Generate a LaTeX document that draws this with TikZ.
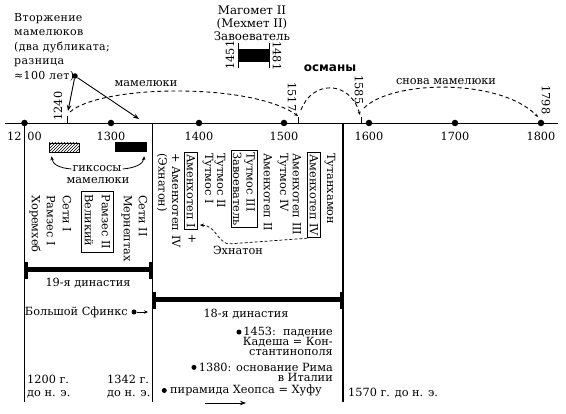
\documentclass[tikz,border=0pt]{standalone}
\usepackage{fontspec}
\setmainfont{DejaVu Serif}
\newfontfamily\sansbold{DejaVu Sans}
\usetikzlibrary{arrows.meta,patterns}
\begin{document}
\begin{tikzpicture}[x=1pt,y=-1pt,
  every node/.style={inner sep=0pt, font=\fontsize{11.3}{13.5}\selectfont},
  cdot/.style={circle, fill=black, minimum size=6.5pt, inner sep=0pt},
  vlab/.style={rotate=-90, anchor=west, align=left},
  vbox/.style={rotate=-90, anchor=west, align=left, draw, line width=0.8pt, inner sep=2pt},
  axisline/.style={line width=0.8pt},
  vline/.style={line width=0.9pt},
  dynbar/.style={line width=5pt},
  dyntick/.style={line width=3pt},
  era/.style={dash pattern=on 4pt off 3pt, line width=0.9pt, -{Stealth[length=3.5pt,width=3pt]}},
  arr/.style={line width=0.9pt, -{Stealth[length=6pt,width=4.5pt]}},
  smallarr/.style={line width=0.8pt, -{Stealth[length=4pt,width=3.5pt]}},
  yr/.style={font=\fontsize{11.3}{13}\selectfont},
  note/.style={anchor=base east},
]
\useasboundingbox (0,0) rectangle (566,414);

% ---------- main axis ----------
\coordinate (axL) at (5,123);
\coordinate (axR) at (558,123);
\draw[axisline] (axL) -- (axR);

\node[cdot] (d1200) at (24.5,123) {};
\node[cdot] (d1300) at (111,123) {};
\node[cdot] (d1400) at (199,123) {};
\node[cdot] (d1500) at (284,123) {};
\node[cdot] (d1600) at (369,123) {};
\node[cdot] (d1700) at (455,123) {};
\node[cdot] (d1800) at (541,123) {};

\node[yr] (l1200) at (24.5,136) {12\hspace{6pt}00};
\node[yr] (l1300) at (111,136) {1300};
\node[yr] (l1400) at (199,136) {1400};
\node[yr] (l1500) at (284,136) {1500};
\node[yr] (l1600) at (369,136) {1600};
\node[yr] (l1700) at (455,136) {1700};
\node[yr] (l1800) at (541,136) {1800};

% small ticks above axis
\draw[axisline] (67,116) -- (67,123);
\draw[axisline] (298,117) -- (298,123);
\draw[axisline] (361,117) -- (361,123);

\node[yr, rotate=90] (t1240) at (58,106) {1240};
\node[yr, rotate=-90] (t1517) at (292,97) {1517};
\node[yr, rotate=-90] (t1585) at (359,90) {1585};
\node[yr, rotate=-90] (t1798) at (546,100) {1798};

% ---------- eras (dashed arcs) ----------
\coordinate (c1240) at (70,112);
\coordinate (c1517) at (298,116);
\coordinate (c1517b) at (301,110);
\coordinate (c1585) at (360,115);
\coordinate (c1585b) at (364,108);
\coordinate (c1798) at (538,117);
\draw[era] (c1240) .. controls (100,85) and (250,82) .. (c1517);
\draw[era] (c1517b) .. controls (312,80) and (350,80) .. (c1585);
\draw[era] (c1585b) .. controls (392,80) and (500,78) .. (c1798);

\node (mam1) at (146,84) {мамелюки};
\node[font=\sansbold\bfseries\fontsize{12}{14}\selectfont] (osm) at (330,68) {османы};
\node (mam2) at (446,82) {снова мамелюки};

% ---------- Mehmet II ----------
\node[align=center, font=\fontsize{11.8}{13}\selectfont] (mehmet) at (252,23) {Магомет II\\(Мехмет II)\\Завоеватель};
\node[fill=black, minimum width=31pt, minimum height=13pt] (mbar) at (254,55.5) {};
\draw[line width=1.2pt] ([yshift=6pt]mbar.north west) -- ([yshift=-6pt]mbar.south west);
\draw[line width=1.2pt] ([yshift=6pt]mbar.north east) -- ([yshift=-6pt]mbar.south east);
\node[yr, rotate=90] (y1451) at (230,55) {1451};
\node[yr, rotate=-90] (y1481) at (277,56) {1481};

% ---------- invasion note ----------
\node[align=left, anchor=north west, font=\fontsize{11}{14.5}\selectfont\addfontfeatures{LetterSpace=3}] (inv) at (14,13)
  {Вторжение\\мамелюков\\(два дубликата;\\разница\\≈100 лет)};
\node[cdot, minimum size=5.5pt] (invdot) at (75,76) {};
\coordinate (inv1240) at (68,111);
\coordinate (inv1340) at (139,119);
\draw[arr] (invdot) -- (inv1240);
\draw[arr] (invdot) -- (inv1340);

% ---------- hyksos / mamelukes ----------
\node[draw, line width=0.8pt, pattern=north east lines, minimum width=30pt, minimum height=9pt] (hyk) at (64,147.5) {};
\node[fill=black, minimum width=32pt, minimum height=10pt] (mamb) at (131,147) {};
\node (gik) at (97,169) {гиксосы};
\node (gik2) at (98,181) {мамелюки};
\draw[smallarr] ([xshift=-1pt]gik.west) .. controls +(-12,-1) and +(1,8) .. ([xshift=3pt,yshift=-4pt]hyk.south west);
\draw[smallarr] ([xshift=1pt]gik.east) .. controls +(12,-1) and +(-1,8) .. ([xshift=-3pt,yshift=-4pt]mamb.south east);

% ---------- vertical lines ----------
\coordinate (v1t) at (24.5,123); \coordinate (v1b) at (24.5,402);
\coordinate (v2t) at (152,123);  \coordinate (v2b) at (152,402);
\coordinate (v3t) at (343,123);  \coordinate (v3b) at (343,402);
\draw[vline] (v1t) -- (v1b);
\draw[vline] (v2t) -- (v2b);
\draw[line width=1.1pt] (v3t) -- (v3b);

% ---------- 19th dynasty names ----------
\node[vlab] (horem) at (35,195) {Хоремхеб};
\node[vlab] (ram1) at (51,195) {Рамзес I};
\node[vlab] (seti1) at (67,195) {Сети I};
\node[vbox, font=\fontsize{11.3}{17}\selectfont, inner sep=3pt] (ram2) at (97.5,191) {Рамзес II\\Великий};
\node[vlab, font=\fontsize{11.3}{15}\selectfont] (seti2) at (134.5,195) {Сети II\\Мернептах};

% ---------- 18th dynasty names ----------
\node[vlab] (amen4a) at (168.5,153) {+ Аменхотеп IV\\(Эхнатон)};
\node[vbox] (amen1) at (191,152) {Аменхотеп I};
\node (plus1) at (192,239) {+};
\node[vlab] (tut1) at (208,153) {Тутмос I};
\node[vlab] (tut2) at (220,153) {Тутмос II};
\node[vbox] (tut3) at (244,150) {Тутмос III\\Завоеватель};
\node[vlab] (amen2) at (268,153) {Аменхотеп II};
\node[vlab] (tut4) at (283,153) {Тутмос IV};
\node[vlab] (amen3) at (297,153) {Аменхотеп III};
\node[vbox] (amen4) at (314,152) {Аменхотеп IV};
\node[vlab] (tutank) at (330,153) {Тутанхамон};

\node (ekh) at (238,250) {Эхнатон};
\coordinate (ekhmid) at (228,244);
\coordinate (ekhtip) at (200,225);
\draw[dash pattern=on 3pt off 2pt, line width=0.7pt, -{Stealth[length=4pt,width=3.5pt]}]
  (amen4.south east) -- (ekhmid) .. controls (216,240) and (216,226) .. (ekhtip);

% ---------- dynasties ----------
\coordinate (b19l) at (25,270); \coordinate (b19r) at (151,270);
\draw[dynbar] (b19l) -- (b19r);
\draw[dyntick] (26,262) -- (26,279);
\draw[dyntick] (150,262) -- (150,279);
\node (d19) at (88,283) {19-я династия};

\coordinate (b18l) at (153,300); \coordinate (b18r) at (342,300);
\draw[dynbar] (b18l) -- (b18r);
\draw[dyntick] (154,292) -- (154,309);
\draw[dyntick] (341,292) -- (341,309);
\node (d18) at (246,314) {18-я династия};

% ---------- sphinx ----------
\node[anchor=east] (sph) at (128,312) {Большой Сфинкс};
\node[cdot, minimum size=5pt] (sphdot) at (134,312) {};
\coordinate (sphend) at (148,312);
\draw[smallarr] (sphdot) -- (sphend);

% ---------- notes ----------
\node[note] (n1a) at (333,335.5) {1453:\ \ падение};
\node[note] (n1b) at (333,345.5) {Кадеша = Кон-};
\node[note] (n1c) at (333,355.5) {стантинополя};
\node[cdot, minimum size=5pt, anchor=east] (n1dot) at ([xshift=-1.5pt]n1a.west) {};

\node[note] (n2a) at (333,371.5) {1380: основание Рима};
\node[note] (n2b) at (333,381.5) {в Италии};
\node[cdot, minimum size=5pt, anchor=east] (n2dot) at ([xshift=-2pt]n2a.west) {};

\node[note] (n3) at (322,393.5) {пирамида Хеопса = Хуфу};
\node[cdot, minimum size=5pt, anchor=east] (n3dot) at ([xshift=-3pt]n3.west) {};
\coordinate (pa1) at (205,403);
\coordinate (pa2) at (246,403);
\draw[arr] (pa1) -- (pa2);

\node[anchor=base west] (y1200a) at (27,383.5) {1200 г.};
\node[anchor=base west] (y1200b) at (27,396.5) {до н. э.};
\node[anchor=base west] (y1342a) at (107,383.5) {1342 г.};
\node[anchor=base west] (y1342b) at (107,396.5) {до н. э.};
\node[anchor=base west] (y1570) at (348,396.5) {1570 г. до н. э.};
\end{tikzpicture}
\end{document}
